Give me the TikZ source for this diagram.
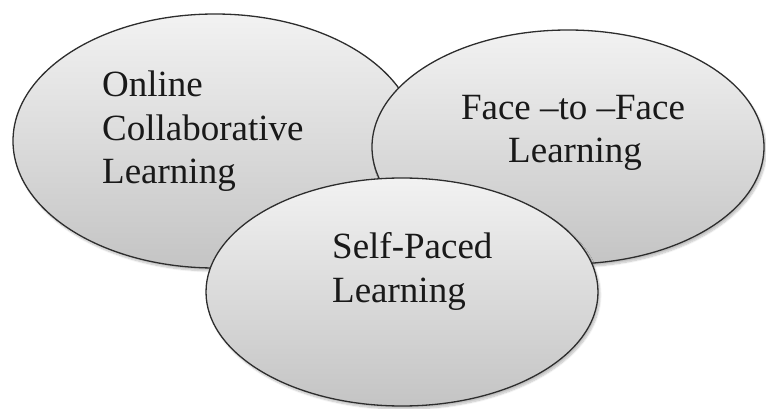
\documentclass[tikz,border=0pt]{standalone}
\usepackage{fontspec}
\setmainfont{Liberation Serif}
\usetikzlibrary{shapes.geometric,shadows.blur}
\definecolor{filltop}{RGB}{242,242,242}
\definecolor{fillbot}{RGB}{196,196,196}
\definecolor{rim}{RGB}{45,45,45}
\definecolor{ink}{RGB}{25,25,25}
\begin{document}
\begin{tikzpicture}[x=1pt,y=-1pt,
  bubble/.style={ellipse, draw=rim, line width=1.3pt, inner sep=0pt,
    top color=filltop, bottom color=fillbot,
    blur shadow={shadow xshift=2pt, shadow yshift=-3pt, shadow blur steps=8, shadow opacity=25}},
  label/.style={inner sep=0pt, text=ink, font=\fontsize{37}{43}\selectfont}]
\useasboundingbox (0,0) rectangle (766,409);
% three overlapping ellipses, back to front
\node[bubble, minimum width=404pt, minimum height=254pt] (online) at (215,141) {};
\node[bubble, minimum width=392pt, minimum height=234pt] (face) at (568,147) {};
\node[bubble, minimum width=392pt, minimum height=228pt] (self) at (402,292) {};
% labels
\node[label, anchor=base west] (t1a) at (102,97) {Online};
\node[label, anchor=base west] (t1b) at (102,141) {Collaborative};
\node[label, anchor=base west] (t1c) at (102,184) {Learning};
\node[label, anchor=base] (t2a) at (573,120) {Face –to –Face};
\node[label, anchor=base] (t2b) at (575,163) {Learning};
\node[label, anchor=base west] (t3a) at (332,258) {Self-Paced};
\node[label, anchor=base west] (t3b) at (332,302) {Learning};
\end{tikzpicture}
\end{document}
